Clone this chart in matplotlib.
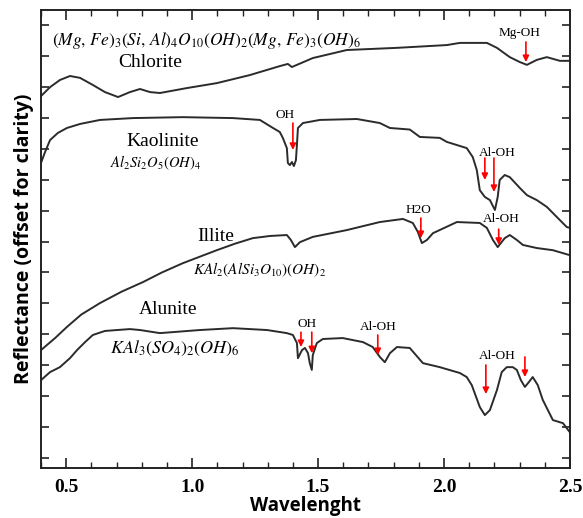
import matplotlib
matplotlib.use("Agg")
import matplotlib.pyplot as plt
from matplotlib.ticker import MultipleLocator

plt.rcParams["mathtext.fontset"] = "stix"

# ---- spectra (wavelength in um, reflectance offset units) -------------------

chl_wl = [0.400, 0.436, 0.475, 0.515, 0.555, 0.606, 0.654, 0.706, 0.753, 0.793,
          0.833, 0.872, 0.979, 1.098, 1.229, 1.348, 1.380, 1.396, 1.416, 1.479,
          1.614, 1.813, 2.011, 2.063, 2.170, 2.210, 2.261, 2.301, 2.329, 2.368,
          2.408, 2.460, 2.499]
chl_r = [11.70, 11.99, 12.22, 12.35, 12.29, 12.06, 11.83, 11.67, 11.83, 11.93,
         11.83, 11.80, 11.96, 12.12, 12.38, 12.67, 12.74, 12.64, 12.71, 12.93,
         13.19, 13.26, 13.35, 13.42, 13.42, 13.26, 12.96, 12.80, 12.71, 12.87,
         12.96, 12.84, 12.84]

kao_wl = [0.400, 0.416, 0.436, 0.467, 0.503, 0.555, 0.634, 0.765, 0.963, 1.162,
          1.269, 1.321, 1.348, 1.360, 1.376, 1.380, 1.388, 1.396, 1.404, 1.412,
          1.416, 1.420, 1.440, 1.507, 1.654, 1.745, 1.785, 1.864, 1.904, 1.983,
          2.011, 2.090, 2.114, 2.130, 2.142, 2.162, 2.182, 2.202, 2.213, 2.221,
          2.241, 2.261, 2.301, 2.329, 2.368, 2.408, 2.448, 2.487, 2.499]
kao_r = [9.54, 9.89, 10.28, 10.51, 10.67, 10.80, 10.93, 10.99, 11.02, 10.99,
         10.93, 10.67, 10.54, 10.35, 10.02, 9.54, 9.47, 9.57, 9.44, 9.63,
         10.12, 10.67, 10.83, 10.93, 10.96, 10.83, 10.67, 10.62, 10.38, 10.35,
         10.22, 10.02, 9.73, 9.31, 8.66, 8.44, 8.34, 8.02, 8.44, 8.99,
         9.15, 9.08, 8.73, 8.50, 8.34, 8.12, 7.79, 7.47, 7.44]

ill_wl = [0.400, 0.430, 0.456, 0.503, 0.560, 0.634, 0.720, 0.805, 0.880, 0.963,
          1.098, 1.170, 1.241, 1.310, 1.376, 1.392, 1.408, 1.428, 1.479, 1.614,
          1.745, 1.837, 1.876, 1.896, 1.912, 1.932, 1.956, 2.051, 2.142, 2.170,
          2.194, 2.213, 2.241, 2.261, 2.289, 2.313, 2.368, 2.432, 2.499]
ill_r = [3.49, 3.70, 3.88, 4.24, 4.64, 5.01, 5.38, 5.69, 6.00, 6.30,
         6.72, 6.93, 7.11, 7.18, 7.21, 7.05, 6.82, 6.98, 7.15, 7.37,
         7.63, 7.73, 7.60, 7.31, 6.95, 7.05, 7.27, 7.63, 7.60, 7.44,
         7.05, 6.82, 7.11, 7.21, 7.05, 6.89, 6.79, 6.72, 6.56]

alu_wl = [0.400, 0.436, 0.475, 0.515, 0.543, 0.575, 0.606, 0.654, 0.702, 0.753,
          0.793, 0.872, 1.031, 1.162, 1.297, 1.376, 1.400, 1.416, 1.420, 1.436,
          1.448, 1.460, 1.467, 1.475, 1.479, 1.495, 1.519, 1.598, 1.678, 1.717,
          1.745, 1.765, 1.785, 1.813, 1.864, 1.916, 1.983, 2.063, 2.090, 2.110,
          2.142, 2.162, 2.182, 2.210, 2.229, 2.249, 2.273, 2.289, 2.305, 2.321,
          2.337, 2.352, 2.372, 2.392, 2.432, 2.472, 2.499]
alu_r = [2.52, 2.78, 2.94, 3.23, 3.49, 3.75, 3.98, 4.11, 4.14, 4.17,
         4.14, 4.04, 4.14, 4.20, 4.14, 4.04, 3.98, 3.72, 3.23, 3.49,
         3.56, 3.39, 3.07, 2.85, 3.33, 3.72, 3.85, 3.88, 3.75, 3.59,
         3.27, 3.10, 3.39, 3.59, 3.56, 3.07, 2.94, 2.75, 2.62, 2.36,
         1.65, 1.39, 1.55, 2.20, 2.78, 2.94, 2.94, 2.85, 2.52, 2.30,
         2.46, 2.62, 2.36, 1.88, 1.23, 1.13, 0.84]

# absorption feature markers: (label, label x, label y, [(arrow x, tail y, head y), ...])
features = [
    ("Mg-OH", 2.301, 13.74, [(2.325, 13.45, 12.80)]),
    ("OH", 1.368, 11.09, [(1.400, 10.83, 9.96)]),
    ("Al-OH", 2.210, 9.86, [(2.162, 9.70, 8.99), (2.198, 9.70, 8.60)]),
    ("H2O", 1.900, 8.02, [(1.908, 7.76, 7.11)]),
    ("Al-OH", 2.229, 7.73, [(2.217, 7.40, 6.89)]),
    ("OH", 1.456, 4.33, [(1.432, 4.07, 3.59), (1.475, 4.07, 3.39)]),
    ("Al-OH", 1.737, 4.24, [(1.737, 3.98, 3.33)]),
    ("Al-OH", 2.213, 3.30, [(2.166, 3.01, 2.07), (2.321, 3.27, 2.62)]),
]

SERIF = "Liberation Serif"
LINE = "#2b2b2b"

fig = plt.figure(figsize=(5.83, 5.18), dpi=100)
ax = fig.add_axes([0.0703, 0.0965, 0.9074, 0.884])

for wl, r in [(chl_wl, chl_r), (kao_wl, kao_r), (ill_wl, ill_r), (alu_wl, alu_r)]:
    ax.plot(wl, r, color=LINE, lw=1.4)

for label, lx, ly, arrows in features:
    ax.text(lx, ly, label, family=SERIF, fontsize=9.5, ha="center", va="center")
    for axx, y0, y1 in arrows:
        ax.annotate("", xy=(axx, y1), xytext=(axx, y0),
                    arrowprops=dict(arrowstyle="-|>", color="red", lw=1.2,
                                    mutation_scale=9, shrinkA=0, shrinkB=0))

# mineral names and formulas
ax.text(0.444, 13.51, r"$(Mg,\,Fe)_3(Si,\,Al)_4O_{10}(OH)_2(Mg,\,Fe)_3(OH)_6$",
        fontsize=12.5, ha="left", va="center")
ax.text(0.833, 12.80, "Chlorite", family=SERIF, fontsize=14, ha="center", va="center")
ax.text(0.884, 10.22, "Kaolinite", family=SERIF, fontsize=14, ha="center", va="center")
ax.text(0.856, 9.54, r"$Al_2Si_2O_5(OH)_4$", fontsize=10.5, ha="center", va="center")
ax.text(1.094, 7.15, "Illite", family=SERIF, fontsize=14, ha="center", va="center")
ax.text(1.003, 6.08, r"$KAl_2(AlSi_3O_{10})(OH)_2$", fontsize=11, ha="left", va="center")
ax.text(0.904, 4.79, "Alunite", family=SERIF, fontsize=14, ha="center", va="center")
ax.text(0.674, 3.56, r"$KAl_3(SO_4)_2(OH)_6$", fontsize=13, ha="left", va="center")

ax.set_xlim(0.4, 2.5)
ax.set_ylim(-0.32, 14.48)
ax.xaxis.set_major_locator(MultipleLocator(0.5))
ax.xaxis.set_minor_locator(MultipleLocator(0.1))
ax.yaxis.set_major_locator(MultipleLocator(1))
ax.set_yticklabels([])
ax.tick_params(which="both", direction="in", top=True, right=True, color="#222222")
ax.tick_params(which="major", length=7, width=1.2)
ax.tick_params(which="minor", length=4, width=1.0)
ax.tick_params(axis="y", which="major", length=6, labelleft=False)
for lab in ax.get_xticklabels():
    lab.set_family(SERIF)
    lab.set_fontweight("bold")
    lab.set_fontsize(14)
ax.tick_params(axis="x", pad=8)
for s in ax.spines.values():
    s.set_linewidth(1.4)
    s.set_color("#222222")

ax.set_xlabel("Wavelenght", family="Open Sans", fontweight="bold", fontsize=13.5, labelpad=0)
ax.set_ylabel("Reflectance (offset for clarity)", family="Open Sans", fontweight="bold",
              fontsize=14, labelpad=5)

fig.savefig("out.png", dpi=100)
